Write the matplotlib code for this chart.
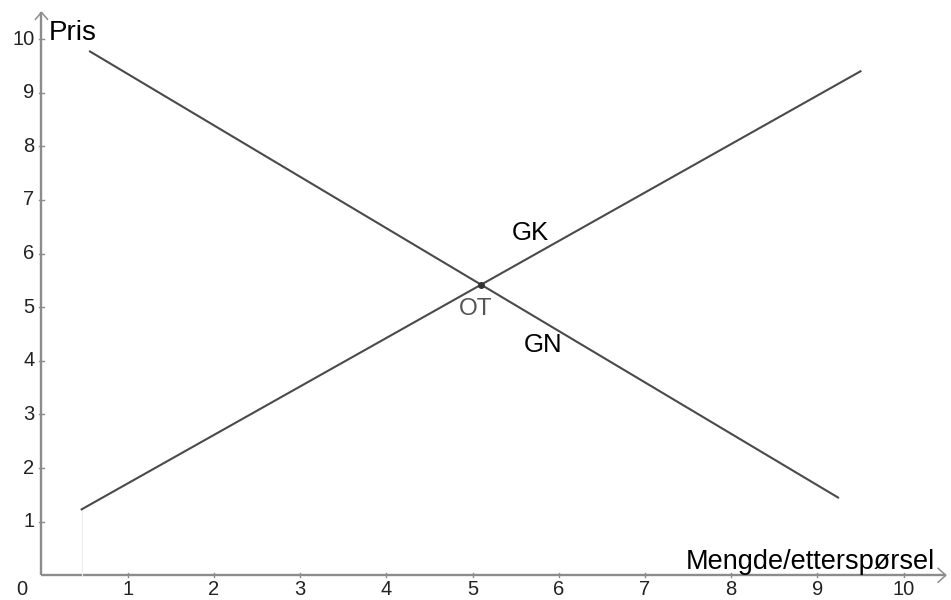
import matplotlib
matplotlib.use("Agg")
import matplotlib.pyplot as plt

plt.rcParams["font.family"] = ["Liberation Sans", "DejaVu Sans"]

# supply (GK) and demand (GN) line end points
supply_x = [0.466, 9.50]
supply_y = [1.23, 9.40]
demand_x = [0.563, 9.24]
demand_y = [9.77, 1.45]
eq_x, eq_y = 5.10, 5.41

ticks = list(range(1, 11))

AXIS = "#8c8c8c"
LINE = "#4a4a4a"

fig = plt.figure(figsize=(9.51, 6.0), dpi=100)
ax = fig.add_axes([0, 0, 1, 1])
ax.set_xlim(-0.481, 10.55)
ax.set_ylim(-0.461, 10.73)
ax.axis("off")

# axes with open arrow heads
ax.plot([0, 10.49], [0, 0], color=AXIS, lw=1.7, solid_capstyle="butt")
ax.plot([0, 0], [0, 10.5], color=AXIS, lw=1.7, solid_capstyle="butt")
ax.plot([10.40, 10.49, 10.40], [0.13, 0, -0.13], color=AXIS, lw=1.1)
ax.plot([-0.07, 0, 0.07], [10.37, 10.5, 10.37], color=AXIS, lw=1.1)

for t in ticks:
    ax.plot([t, t], [-0.04, 0.04], color=AXIS, lw=1)
    ax.plot([-0.03, 0.03], [t, t], color=AXIS, lw=1)
    ax.text(t, -0.27, str(t), ha="center", va="center", fontsize=14.5, color="#222222")
    ax.text(-0.08, t, str(t), ha="right", va="center", fontsize=14.5, color="#222222")
ax.text(-0.23, -0.27, "0", ha="center", va="center", fontsize=14.5, color="#222222")

# faint guide at start of supply line
ax.plot([supply_x[0], supply_x[0]], [0, supply_y[0]], color="#ececec", lw=0.8)

ax.plot(supply_x, supply_y, color=LINE, lw=1.5)
ax.plot(demand_x, demand_y, color=LINE, lw=1.5)
ax.plot([eq_x], [eq_y], "o", color="#333333", ms=4)

ax.text(0.36, 10.12, "Pris", ha="center", va="center", fontsize=20, color="black")
ax.text(8.92, 0.25, "Mengde/etterspørsel", ha="center", va="center", fontsize=19.5, color="black")
ax.text(5.67, 6.39, "GK", ha="center", va="center", fontsize=18.5, color="black")
ax.text(5.82, 4.30, "GN", ha="center", va="center", fontsize=18.5, color="black")
ax.text(5.04, 4.97, "OT", ha="center", va="center", fontsize=17.5, color="#555555")

fig.savefig("out.png", dpi=100)
